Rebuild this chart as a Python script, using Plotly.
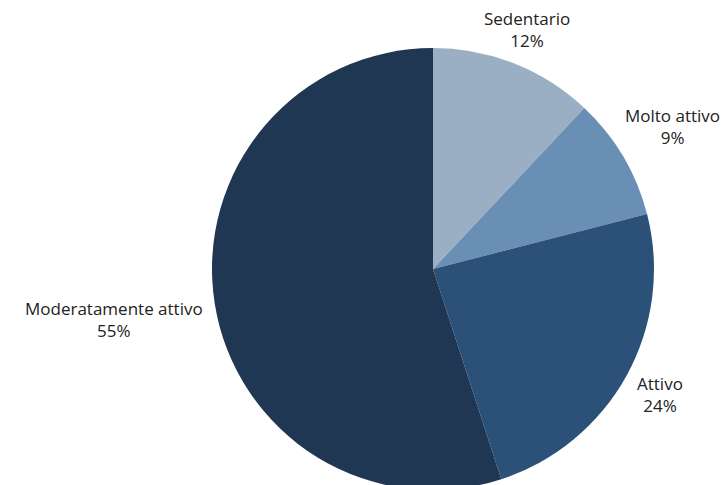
import math
import plotly.graph_objects as go

labels = ["Sedentario", "Molto attivo", "Attivo", "Moderatamente attivo"]
values = [12, 9, 24, 55]
colors = ["#9aafc4", "#6a8fb5", "#2b5179", "#1f3752"]

W, H = 726, 490
ML, MR, MT, MB = 140, 0, 48, 0
plot_w = W - ML - MR
plot_h = H - MT - MB
radius = min(plot_w, plot_h) / 2
gap = 10
# small pixel nudges of the outside labels (x, y) to follow the reference layout
nudges = {"Sedentario": (9, 0), "Molto attivo": (-9, 0),
          "Attivo": (0, 10), "Moderatamente attivo": (0, 10)}

fig = go.Figure(go.Pie(
    labels=labels,
    values=values,
    sort=False,
    direction="clockwise",
    rotation=0,
    marker=dict(colors=colors, line=dict(width=0)),
    textinfo="none",
    showlegend=False,
    hoverinfo="skip",
))

total = sum(values)
cum = 0
annotations = []
for lab, v in zip(labels, values):
    mid = (cum + v / 2) / total * 2 * math.pi
    cum += v
    s, c = math.sin(mid), math.cos(mid)
    x = 0.5 + (radius + gap) * s / plot_w
    y = 0.5 + (radius + gap) * c / plot_h
    xanchor = "left" if s > 0.5 else ("right" if s < -0.5 else "center")
    yanchor = "bottom" if c > 0 else "top"
    pct = round(v / total * 100)
    dx, dy = nudges[lab]
    annotations.append(dict(
        x=x, y=y, xref="paper", yref="paper",
        text=f"{lab}<br>{pct}%",
        showarrow=False,
        xanchor=xanchor, yanchor=yanchor,
        xshift=dx, yshift=dy,
        align="center",
        font=dict(family="Open Sans", size=17, color="#222222"),
    ))

fig.update_layout(
    width=W,
    height=H,
    margin=dict(l=ML, r=MR, t=MT, b=MB, autoexpand=False),
    paper_bgcolor="white",
    plot_bgcolor="white",
    font=dict(family="Open Sans"),
    annotations=annotations,
)

fig.write_html("out.html")
